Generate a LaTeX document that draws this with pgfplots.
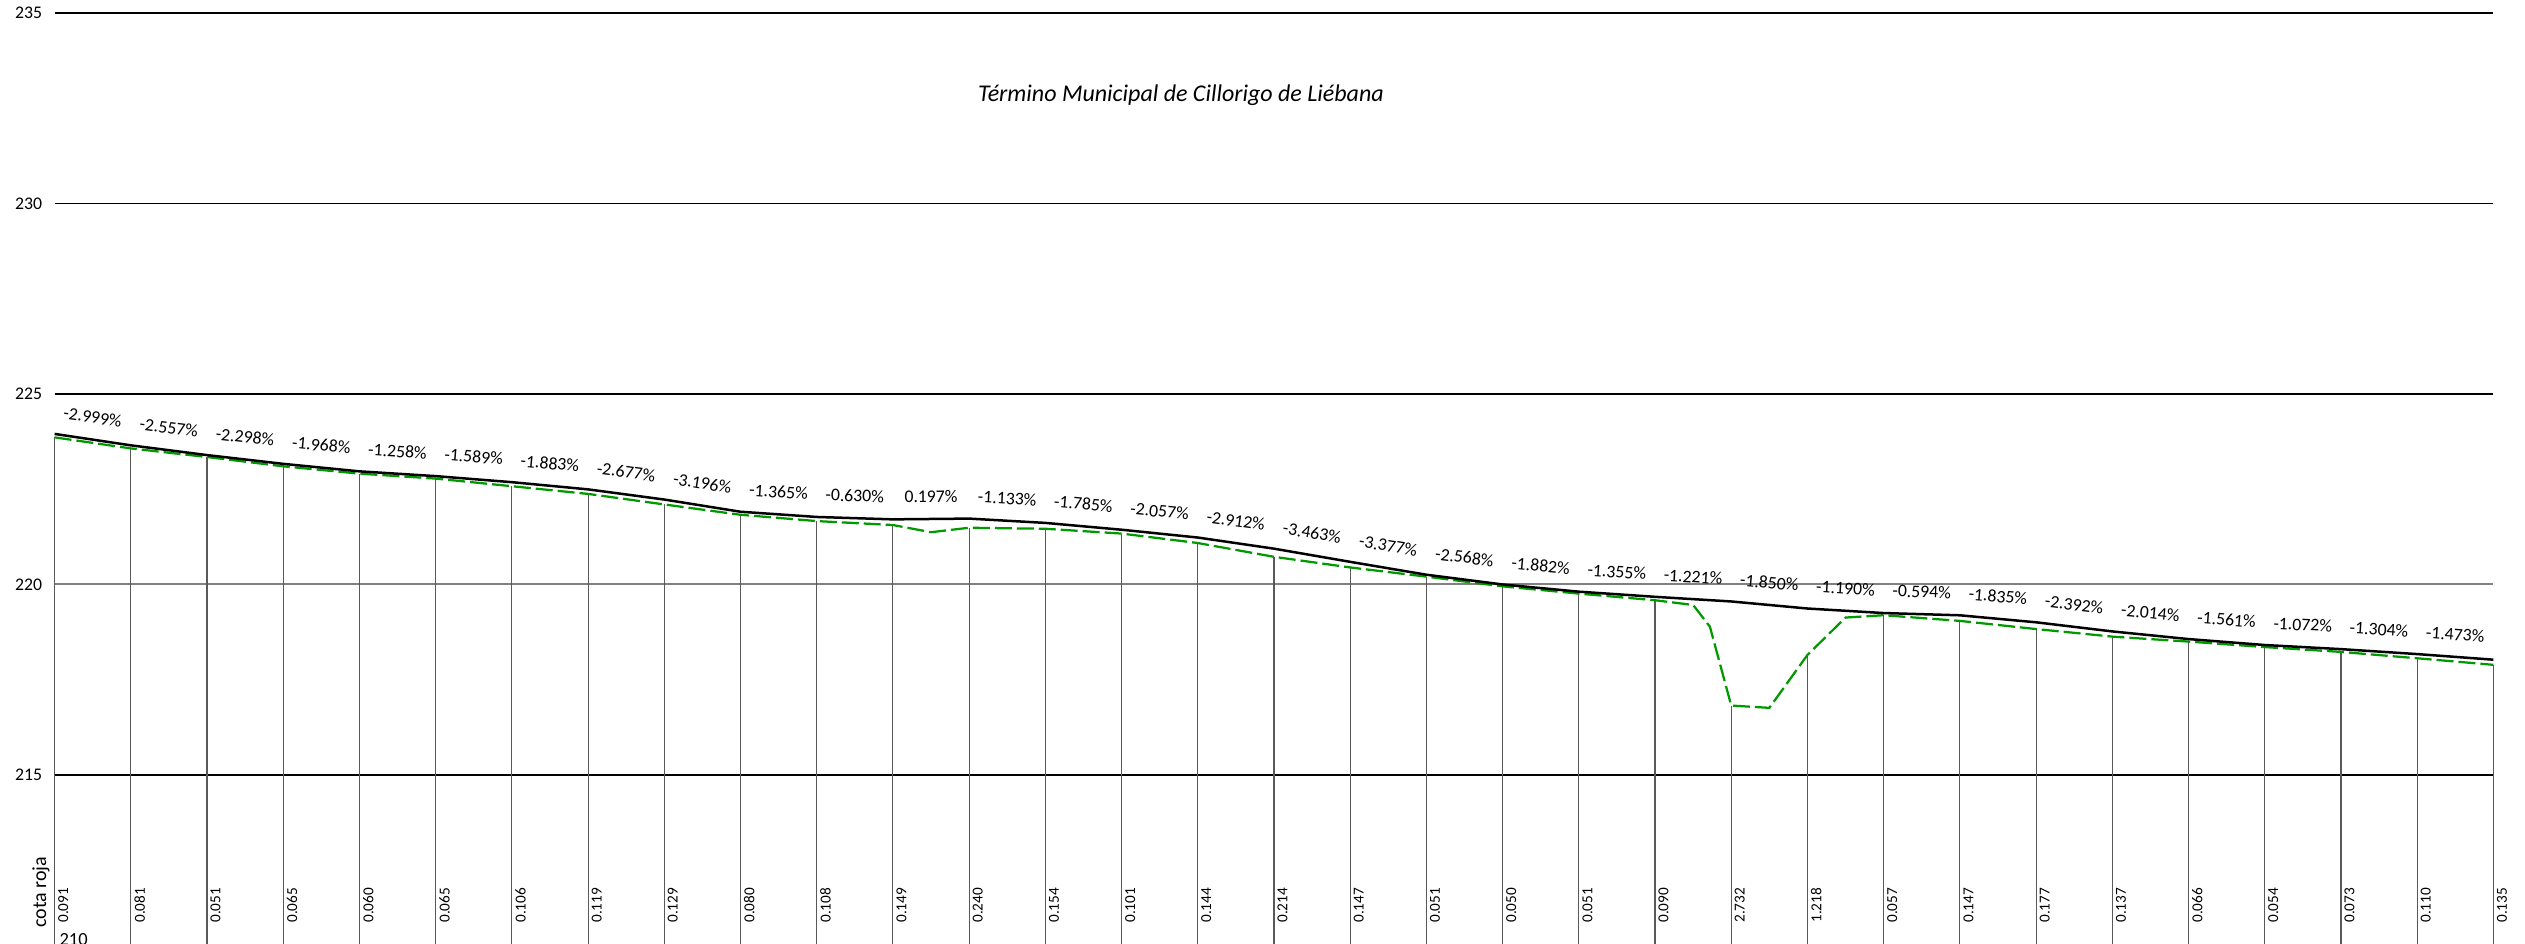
\documentclass[border=0pt]{standalone}
\usepackage{fontspec}
\setmainfont{Carlito}
\usepackage{pgfplots}
\usepackage{pgfplotstable}
\pgfplotsset{compat=1.18}
\definecolor{terrcol}{RGB}{0,153,0}

% rasante (black line), station every 10 m
\pgfplotstableread{
x y
0 223.950
1 223.650
2 223.394
3 223.164
4 222.967
5 222.842
6 222.683
7 222.494
8 222.227
9 221.907
10 221.770
11 221.707
12 221.727
13 221.614
14 221.435
15 221.230
16 220.938
17 220.592
18 220.254
19 219.998
20 219.809
21 219.674
22 219.552
23 219.367
24 219.248
25 219.189
26 219.005
27 218.766
28 218.565
29 218.409
30 218.301
31 218.171
32 218.024
}\rasante

% terreno (green dashed line)
\pgfplotstableread{
x y
0 223.859
1 223.569
2 223.343
3 223.099
4 222.907
5 222.777
6 222.577
7 222.375
8 222.098
9 221.827
10 221.662
11 221.558
11.5 221.37
12 221.487
13 221.460
14 221.334
15 221.086
16 220.724
17 220.445
18 220.203
19 219.948
20 219.758
21 219.584
21.5 219.46
21.72 218.89
22 216.820
22.5 216.76
23 218.149
23.5 219.13
24 219.191
25 219.042
26 218.828
27 218.629
28 218.499
29 218.355
30 218.228
31 218.061
32 217.889
}\terrenotab

% stations: terrain elevation, label position and cota roja
\pgfplotstableread{
x g xl yl lab
0 223.859 0.04 211.11 0.091
1 223.569 1.04 211.11 0.081
2 223.343 2.04 211.11 0.051
3 223.099 3.04 211.11 0.065
4 222.907 4.04 211.11 0.060
5 222.777 5.04 211.11 0.065
6 222.577 6.04 211.11 0.106
7 222.375 7.04 211.11 0.119
8 222.098 8.04 211.11 0.129
9 221.827 9.04 211.11 0.080
10 221.662 10.04 211.11 0.108
11 221.558 11.04 211.11 0.149
12 221.487 12.04 211.11 0.240
13 221.460 13.04 211.11 0.154
14 221.334 14.04 211.11 0.101
15 221.086 15.04 211.11 0.144
16 220.724 16.04 211.11 0.214
17 220.445 17.04 211.11 0.147
18 220.203 18.04 211.11 0.051
19 219.948 19.04 211.11 0.050
20 219.758 20.04 211.11 0.051
21 219.584 21.04 211.11 0.090
22 216.820 22.04 211.11 2.732
23 218.149 23.04 211.11 1.218
24 219.191 24.04 211.11 0.057
25 219.042 25.04 211.11 0.147
26 218.828 26.04 211.11 0.177
27 218.629 27.04 211.11 0.137
28 218.499 28.04 211.11 0.066
29 218.355 29.04 211.11 0.054
30 218.228 30.04 211.11 0.073
31 218.061 31.04 211.11 0.110
32 217.889 32.04 211.11 0.135
}\stations

\begin{document}
\begin{tikzpicture}
\begin{axis}[
  at={(0pt,0pt)}, anchor=south west,
  scale only axis, width=975.5pt, height=381pt,
  xmin=0, xmax=32, ymin=210, ymax=235,
  clip=false,
  axis lines*=left, axis line style={draw=none},
  xtick=\empty,
  ytick={215,225,230,235},
  extra y ticks={220},
  extra y tick style={grid style={black!50, line width=0.8pt}},
  ymajorgrids,
  grid style={black, line width=0.5pt},
  major tick length=0pt,
  /pgf/number format/assume math mode=true,
  yticklabel style={font=\fontsize{7.1}{8}\selectfont, inner sep=0pt, xshift=-4.8pt},
]
% drop lines from terrain
\addplot[ycomb, black!65, line width=0.45pt, mark=none] table[x=x, y=g] \stations;
% terrain
\addplot[terrcol, line width=0.9pt, dash pattern=on 6.8pt off 2pt, mark=none] table[x=x, y=y] \terrenotab;
% rasante
\addplot[black, line width=1pt, mark=none] table[x=x, y=y] \rasante;
% slope labels
\addplot[only marks, mark=none, point meta=explicit symbolic,
  nodes near coords={\pgfplotspointmeta\%},
  visualization depends on={value \thisrow{ang}\as\ang},
  nodes near coords style={font=\fontsize{7.1}{8}\selectfont, anchor=center, rotate=\ang, inner sep=0pt}]
  table[x=x, y=y, meta=lab] {
x y ang lab
0.5 224.390 -8.51 -2.999
1.5 224.112 -7.27 -2.557
2.5 223.869 -6.54 -2.298
3.5 223.656 -5.61 -1.968
4.5 223.495 -3.59 -1.258
5.5 223.353 -4.53 -1.589
6.5 223.179 -5.36 -1.883
7.5 222.951 -7.60 -2.677
8.5 222.657 -9.06 -3.196
9.5 222.429 -3.89 -1.365
10.5 222.329 -1.80 -0.630
11.5 222.307 0.56 0.197
12.5 222.261 -3.24 -1.133
13.5 222.115 -5.09 -1.785
14.5 221.923 -5.86 -2.057
15.5 221.674 -8.26 -2.912
16.5 221.355 -9.80 -3.463
17.5 221.013 -9.56 -3.377
18.5 220.716 -7.30 -2.568
19.5 220.494 -5.36 -1.882
20.5 220.332 -3.87 -1.355
21.5 220.203 -3.49 -1.221
22.5 220.050 -5.27 -1.850
23.5 219.898 -3.40 -1.190
24.5 219.809 -1.70 -0.594
25.5 219.687 -5.23 -1.835
26.5 219.476 -6.80 -2.392
27.5 219.256 -5.74 -2.014
28.5 219.077 -4.46 -1.561
29.5 218.945 -3.06 -1.072
30.5 218.826 -3.72 -1.304
31.5 218.688 -4.20 -1.473
};
% cota roja labels
\addplot[only marks, mark=none, point meta=explicit symbolic,
  nodes near coords={\pgfplotspointmeta},
  nodes near coords style={font=\fontsize{6.1}{7}\selectfont, anchor=north west, rotate=90, inner sep=0pt}]
  table[x=xl, y=yl, meta=lab] \stations;
\node[font=\fontsize{9.6}{11}\selectfont\itshape, anchor=base] at (axis cs:14.78,232.67) {Término Municipal de Cillorigo de Liébana};
\node[font=\fontsize{8}{9}\selectfont, rotate=90, anchor=center, inner sep=0pt] at (axis cs:-0.178,211.92) {cota roja};
\node[font=\fontsize{7.4}{9}\selectfont, anchor=north west, inner sep=0pt] at (axis cs:0.058,210.84) {210};
\end{axis}
\pgfresetboundingbox
\useasboundingbox (-21.84pt,8.56pt) rectangle (988.16pt,386.16pt);
\end{tikzpicture}
\end{document}
